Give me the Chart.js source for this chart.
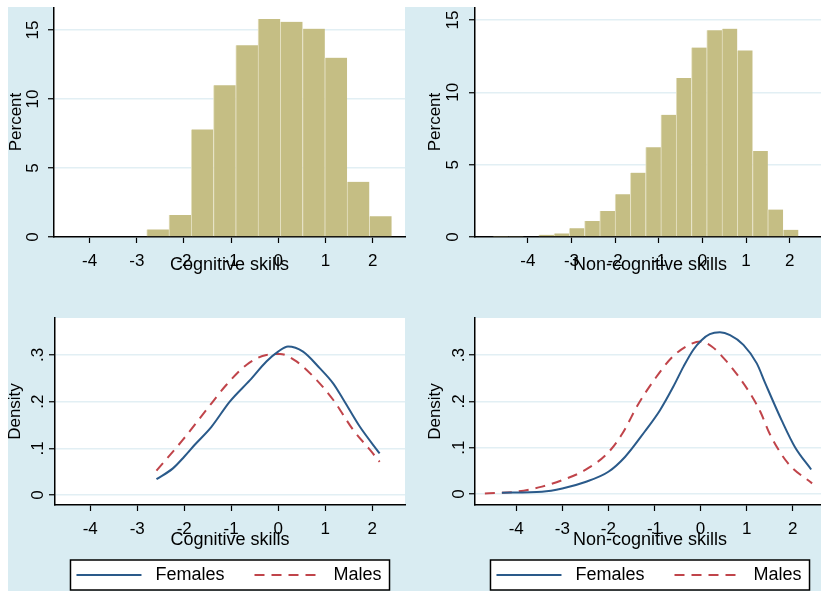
<!DOCTYPE html>
<html>
<head>
<meta charset="utf-8">
<script src="https://cdn.jsdelivr.net/npm/chart.js@4.4.1/dist/chart.umd.min.js"></script>
<style>
  html, body { margin: 0; padding: 0; background: #fff; overflow: hidden; }
  body { width: 821px; height: 591px; position: relative; }
  .panel { position: absolute; background: #d9ecf2; }
  .panel canvas { display: block; }
</style>
</head>
<body>
<div class="panel" style="left:8px;top:7px;width:402px;height:283px"><canvas id="cogHist" width="402" height="283"></canvas></div>
<div class="panel" style="left:410px;top:7px;width:420px;height:283px"><canvas id="ncHist" width="420" height="283"></canvas></div>
<div class="panel" style="left:8px;top:290px;width:402px;height:301px"><canvas id="cogDen" width="402" height="301"></canvas></div>
<div class="panel" style="left:410px;top:290px;width:420px;height:301px"><canvas id="ncDen" width="420" height="301"></canvas></div>
<script>
// tick values
const xTickValues = [-4, -3, -2, -1, 0, 1, 2];
const pctTickValues = [0, 5, 10, 15];
const denTickValues = [0, 0.1, 0.2, 0.3];

// histograms: bin centres and percent
const cogBins = [-2.554, -2.082, -1.610, -1.138, -0.666, -0.194, 0.278, 0.750, 1.222, 1.694, 2.166];
const cogPercent = [0.55, 1.6, 7.8, 11.0, 13.9, 15.8, 15.6, 15.1, 13.0, 4.0, 1.5];

const ncBins = [-4.625, -4.275, -3.925, -3.575, -3.225, -2.875, -2.525, -2.175, -1.825, -1.475,
                -1.125, -0.775, -0.425, -0.075, 0.275, 0.625, 0.975, 1.325, 1.675, 2.025];
const ncPercent = [0.03, 0.04, 0.06, 0.15, 0.25, 0.6, 1.1, 1.8, 2.95, 4.45,
                   6.2, 8.45, 11.0, 13.1, 14.3, 14.4, 12.9, 5.95, 1.9, 0.5];

// kernel densities by sex
const cogFemX = [-2.59, -2.24, -2.0, -1.78, -1.42, -1.03, -0.60, -0.25, 0.0, 0.21, 0.53, 0.89, 1.17, 1.39, 1.74, 2.16];
const cogFemY = [0.034, 0.057, 0.082, 0.107, 0.146, 0.200, 0.246, 0.286, 0.307, 0.318, 0.307, 0.271, 0.239, 0.204, 0.146, 0.089];
const cogMaleX = [-2.59, -2.03, -1.53, -1.10, -0.67, -0.25, 0.04, 0.39, 0.82, 1.17, 1.60, 1.96, 2.16];
const cogMaleY = [0.052, 0.118, 0.182, 0.236, 0.279, 0.300, 0.302, 0.286, 0.246, 0.204, 0.139, 0.096, 0.071];

const ncFemX = [-4.31, -3.44, -3.0, -2.5, -2.0, -1.64, -1.21, -0.88, -0.59, -0.37, -0.16, 0.02, 0.20, 0.42,
                0.64, 0.93, 1.22, 1.40, 1.76, 2.05, 2.40];
const ncFemY = [0.003, 0.005, 0.012, 0.026, 0.048, 0.080, 0.135, 0.181, 0.232, 0.275, 0.311, 0.332, 0.345, 0.349,
                0.343, 0.322, 0.282, 0.240, 0.159, 0.101, 0.053];
const ncMaleX = [-4.68, -4.0, -3.44, -3.0, -2.5, -2.0, -1.70, -1.34, -0.98, -0.61, -0.25, 0.0, 0.25, 0.54,
                 0.83, 1.12, 1.30, 1.50, 1.90, 2.42];
const ncMaleY = [0.001, 0.005, 0.016, 0.030, 0.052, 0.090, 0.130, 0.196, 0.250, 0.296, 0.322, 0.329, 0.318, 0.289,
                 0.253, 0.210, 0.177, 0.130, 0.066, 0.023];

const FONT = '"Liberation Sans", Arial, Helvetica, sans-serif';
const BAR = '#c5be84';
const NAVY = '#2a5a8a';
const MAROON = '#c0444a';

const points = (xs, ys) => xs.map((x, i) => ({ x: x, y: ys[i] }));
const denLabel = v => v === 0 ? '0' : String(v).replace(/^0/, '');

// white plot region
const plotBg = {
  id: 'plotBg',
  beforeDraw(chart) {
    const { ctx, chartArea: a } = chart;
    ctx.save();
    ctx.fillStyle = '#fff';
    ctx.fillRect(a.left, a.top, a.right - a.left, a.bottom - a.top);
    ctx.restore();
  }
};

// boxed legend under the x axis title
const boxLegend = {
  id: 'boxLegend',
  afterDraw(chart) {
    const { ctx, chartArea: a } = chart;
    const sets = chart.data.datasets;
    const top = chart.scales.x.bottom;
    const h = 30, sample = 65, afterSample = 14, between = 30, padL = 6, padR = 8;
    ctx.save();
    ctx.font = '18px ' + FONT;
    let w = padL + padR;
    sets.forEach((d, i) => { w += sample + afterSample + ctx.measureText(d.label).width + (i ? between : 0); });
    let x = (a.left + a.right) / 2 - w / 2;
    const cy = top + h / 2;
    ctx.fillStyle = '#fff';
    ctx.fillRect(x, top, w, h);
    ctx.strokeStyle = '#000';
    ctx.lineWidth = 1.5;
    ctx.strokeRect(x, top, w, h);
    x += padL;
    sets.forEach((d, i) => {
      if (i) x += between;
      ctx.strokeStyle = d.borderColor;
      ctx.lineWidth = d.borderWidth;
      ctx.setLineDash(d.borderDash || []);
      ctx.beginPath();
      ctx.moveTo(x, cy);
      ctx.lineTo(x + sample, cy);
      ctx.stroke();
      ctx.setLineDash([]);
      x += sample + afterSample;
      ctx.fillStyle = '#000';
      ctx.textBaseline = 'middle';
      ctx.fillText(d.label, x, cy);
      x += ctx.measureText(d.label).width;
    });
    ctx.restore();
  }
};

function xAxis(min, max, title, height, titlePad) {
  return {
    type: 'linear', min: min, max: max, offset: false, z: 1,
    afterBuildTicks: s => { s.ticks = xTickValues.map(v => ({ value: v })); },
    afterFit: s => { s.height = height; s.paddingLeft = 0; s.paddingRight = 0; },
    border: { display: true, color: '#000', width: 1.5 },
    grid: { display: true, offset: false, drawOnChartArea: false, tickLength: 6, tickColor: '#000', tickWidth: 1.2 },
    ticks: { color: '#000', font: { family: FONT, size: 17 }, padding: 8, maxRotation: 0, autoSkip: false },
    title: { display: true, text: title, color: '#000', font: { family: FONT, size: 18 }, padding: { top: 0, bottom: titlePad } }
  };
}

function yAxis(min, max, tickValues, title, width, tickPad, titlePad, fmt) {
  return {
    type: 'linear', min: min, max: max,
    afterBuildTicks: s => { s.ticks = tickValues.map(v => ({ value: v })); },
    afterFit: s => { s.width = width; s.paddingTop = 0; s.paddingBottom = 0; },
    border: { display: true, color: '#000', width: 1.5 },
    grid: { color: '#e2eff4', lineWidth: 1.5, tickLength: 6, tickColor: '#000', tickWidth: 1.2 },
    ticks: { color: '#000', font: { family: FONT, size: 17 }, minRotation: 90, maxRotation: 90,
             crossAlign: 'center', padding: tickPad, autoSkip: false, callback: fmt },
    title: { display: true, text: title, color: '#000', font: { family: FONT, size: 17 }, padding: { top: titlePad, bottom: 0 } }
  };
}

function histogram(id, bins, pct, xMin, xMax, yMax, xTitle, yWidth, tickPad, titlePad, padRight) {
  return new Chart(document.getElementById(id), {
    type: 'bar',
    data: {
      datasets: [{
        data: points(bins, pct),
        backgroundColor: BAR,
        borderColor: '#e6e2c4',
        borderWidth: { left: 1, right: 0, top: 0, bottom: 0 },
        barPercentage: 1,
        categoryPercentage: 1
      }]
    },
    options: {
      responsive: false,
      animation: false,
      layout: { padding: { left: 0, top: 0, right: padRight, bottom: 0 } },
      plugins: { legend: { display: false }, tooltip: { enabled: false } },
      scales: {
        x: xAxis(xMin, xMax, xTitle, 53, 14),
        y: yAxis(0, yMax, pctTickValues, 'Percent', yWidth, tickPad, titlePad, v => String(v))
      }
    },
    plugins: [plotBg]
  });
}

function density(id, femX, femY, maleX, maleY, xMin, xMax, yMin, yMax, xTitle, yWidth, tickPad, titlePad, padRight) {
  return new Chart(document.getElementById(id), {
    type: 'line',
    data: {
      datasets: [
        { label: 'Females', data: points(femX, femY), borderColor: NAVY, borderWidth: 2,
          pointRadius: 0, fill: false, cubicInterpolationMode: 'monotone' },
        { label: 'Males', data: points(maleX, maleY), borderColor: MAROON, borderWidth: 2, borderDash: [10, 7],
          pointRadius: 0, fill: false, cubicInterpolationMode: 'monotone' }
      ]
    },
    options: {
      responsive: false,
      animation: false,
      layout: { padding: { left: 0, top: 28, right: padRight, bottom: 31 } },
      plugins: { legend: { display: false }, tooltip: { enabled: false } },
      scales: {
        x: xAxis(xMin, xMax, xTitle, 55, 9),
        y: yAxis(yMin, yMax, denTickValues, 'Density', yWidth, tickPad, titlePad, denLabel)
      }
    },
    plugins: [plotBg, boxLegend]
  });
}

histogram('cogHist', cogBins, cogPercent, -4.755, 2.686, 16.67, 'Cognitive skills', 46, 5.5, -2.2, 5);
histogram('ncHist', ncBins, ncPercent, -5.21, 2.81, 15.9, 'Non-cognitive skills', 65, 6.5, 14.8, 5);
density('cogDen', cogFemX, cogFemY, cogMaleX, cogMaleY, -4.75, 2.70, -0.0214, 0.379, 'Cognitive skills', 47, 3.4, -3.2, 5);
density('ncDen', ncFemX, ncFemY, ncMaleX, ncMaleY, -4.894, 2.70, -0.0237, 0.380, 'Non-cognitive skills', 65, 2.9, 14.8, 5);
</script>
</body>
</html>
